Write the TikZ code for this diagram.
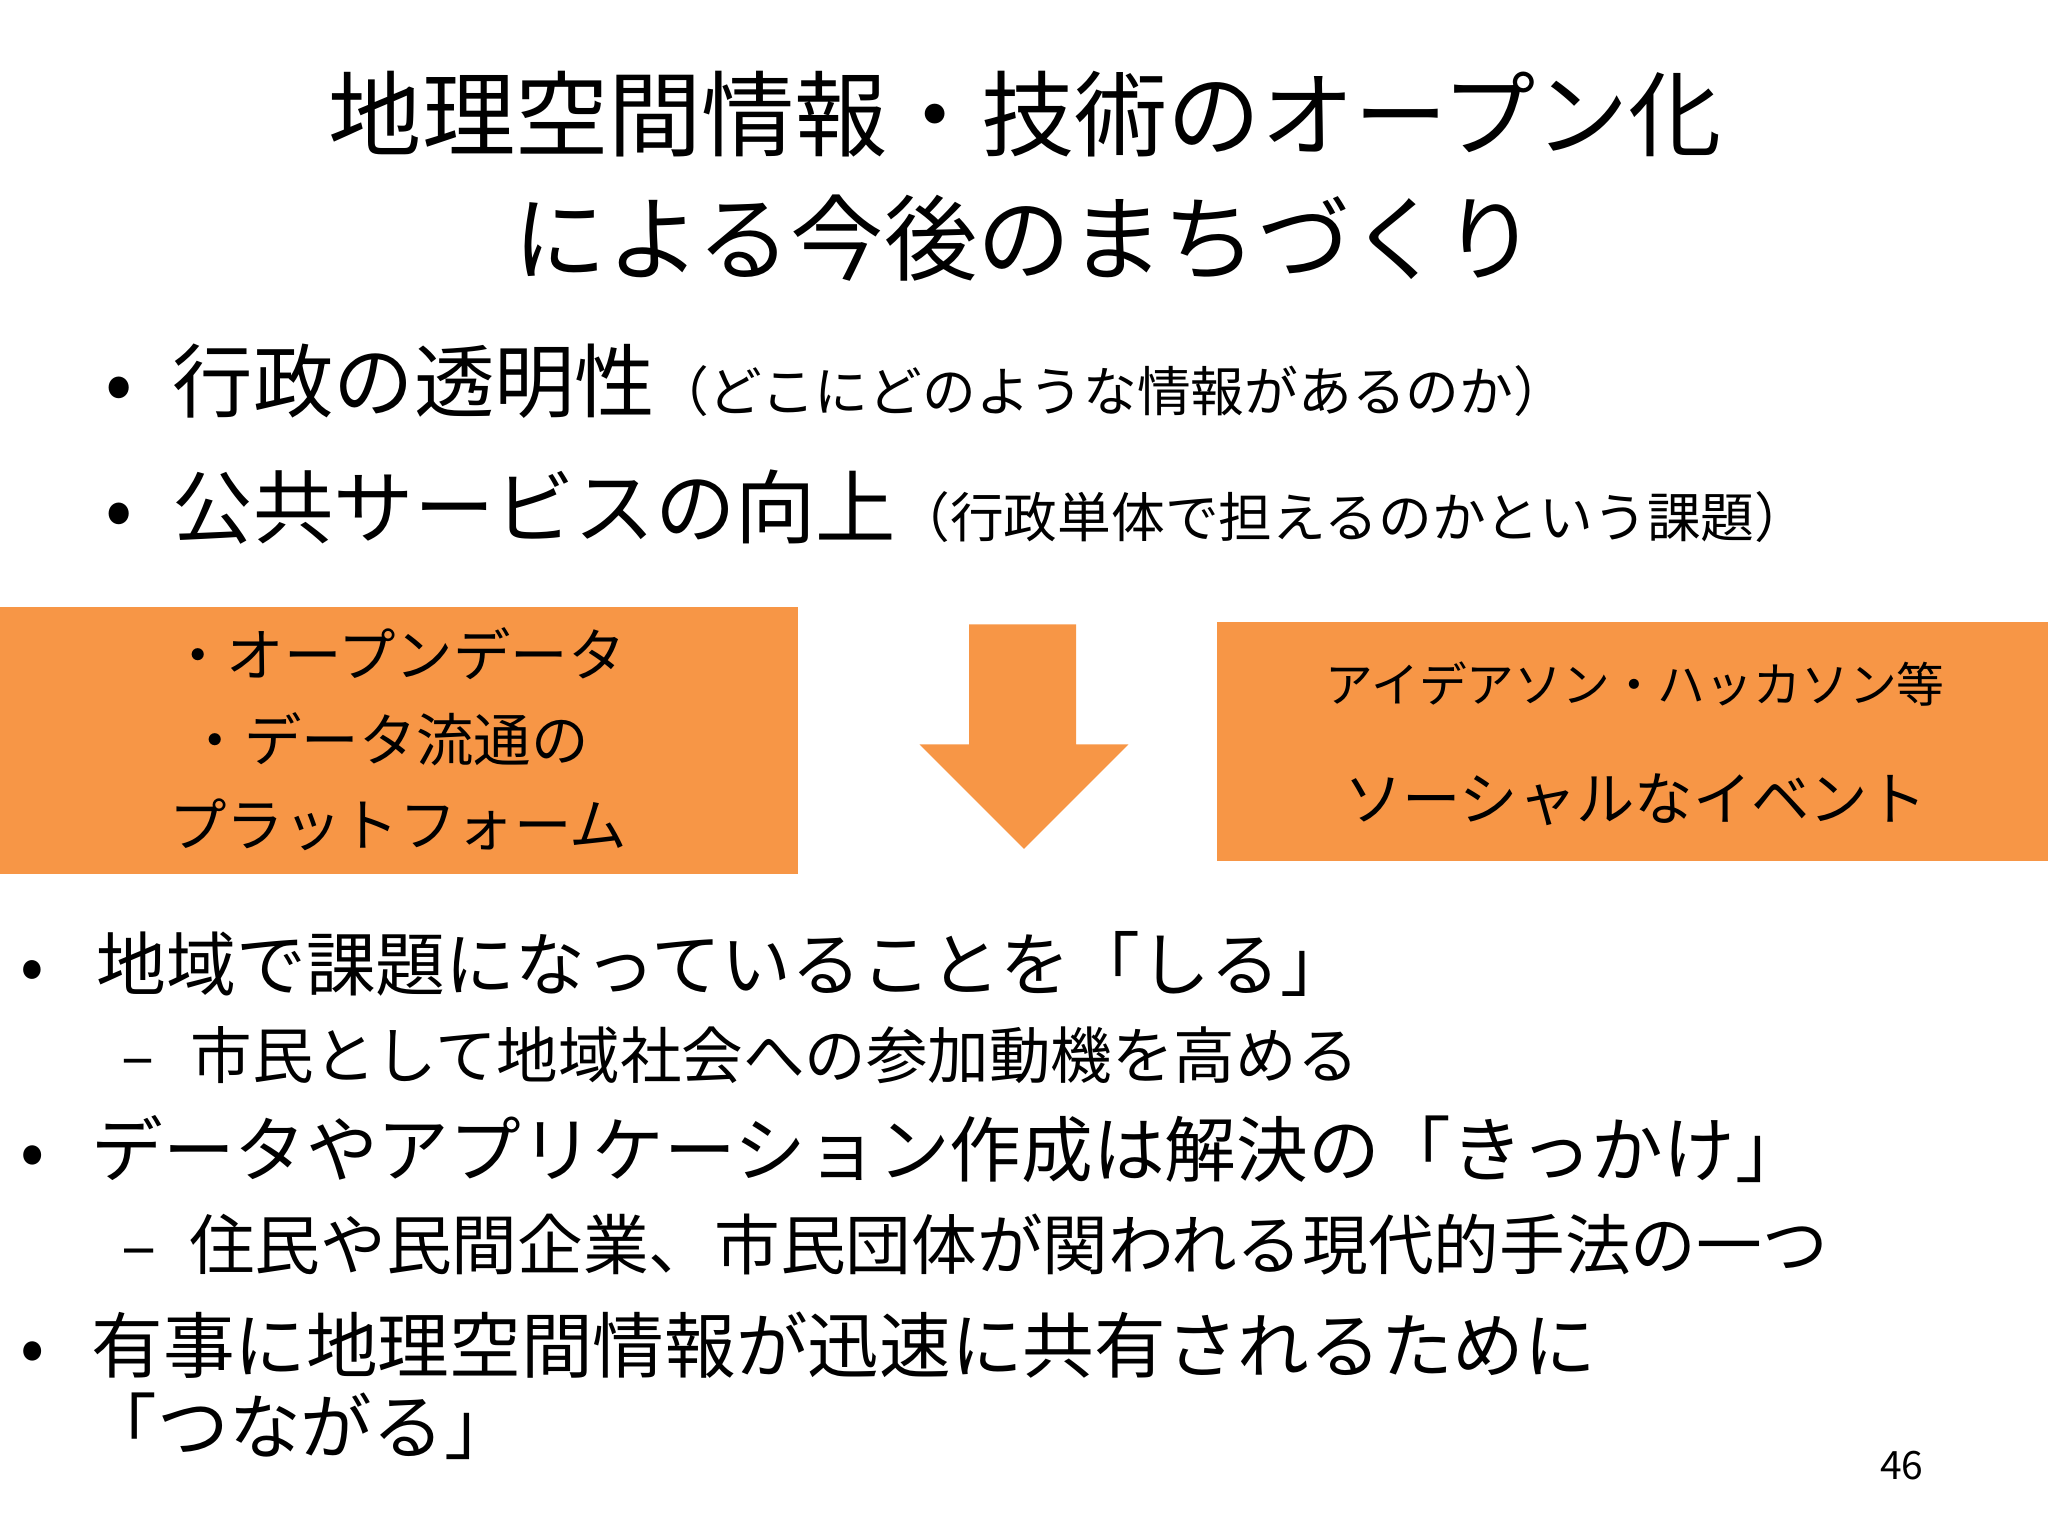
\documentclass[tikz,border=0pt]{standalone}
\usepackage{fontspec}
\setmainfont{Noto Sans CJK JP}
\newfontfamily\cjk{Noto Sans CJK JP}
\definecolor{org}{HTML}{F79646}
\begin{document}
\begin{tikzpicture}[x=0.01cm,y=-0.01cm,
  txt/.style={inner sep=0pt,anchor=west},
  obox/.style={fill=org,draw=none}]
\useasboundingbox (0,0) rectangle (1568,1176);
\node[inner sep=0pt,align=center,font=\fontsize{20.3}{27}\selectfont] (title) at (785,135) {地理空間情報・技術のオープン化\\による今後のまちづくり};
\node[txt,font=\fontsize{17.5}{20}\selectfont] (b1) at (80,292) {•\hspace{0.5em}行政の透明性{\fontsize{11.7}{14}\selectfont （どこにどのような情報があるのか）}};
\node[txt,font=\fontsize{17.5}{20}\selectfont] (b2) at (80,388) {•\hspace{0.5em}公共サービスの向上{\fontsize{11.7}{14}\selectfont （行政単体で担えるのかという課題）}};
\fill[org] (0,465) rectangle (611,669);
\node[inner sep=0pt,align=left,font=\fontsize{12.5}{18.5}\selectfont] (lb) at (305,566) {・オープンデータ\\\hspace{0.3em}・データ流通の\\プラットフォーム};
\fill[org] (932,476) rectangle (1568,659);
\node[inner sep=0pt,font=\fontsize{10.4}{12}\selectfont] (rb1) at (1252,524) {アイデアソン・ハッカソン等};
\node[inner sep=0pt,font=\fontsize{12.7}{14}\selectfont] (rb2) at (1252,612) {ソーシャルなイベント};
\fill[org] (742,478) -- (824,478) -- (824,570) -- (864,570) -- (784,650) -- (704,570) -- (742,570) -- cycle;
\node[txt,font=\fontsize{15.2}{18}\selectfont] (c1) at (15,738) {•\hspace{0.75em}地域で課題になっていることを「しる」};
\node[txt,font=\fontsize{13.4}{16}\selectfont] (c1a) at (92,808) {–\hspace{0.6em}市民として地域社会への参加動機を高める};
\node[txt,font=\fontsize{15.6}{18}\selectfont] (c2) at (15,880) {•\hspace{0.65em}データやアプリケーション作成は解決の「きっかけ」};
\node[txt,font=\fontsize{14.3}{16}\selectfont] (c2a) at (92,953) {–\hspace{0.5em}住民や民間企業、市民団体が関われる現代的手法の一つ};
\node[txt,font=\fontsize{15.6}{18}\selectfont] (c3) at (15,1030) {•\hspace{0.65em}有事に地理空間情報が迅速に共有されるために};
\node[txt,font=\fontsize{15.6}{18}\selectfont] (c3b) at (65,1092) {「つながる」};
\node[inner sep=0pt,font=\fontsize{8.5}{10}\selectfont] (pg) at (1456,1122) {46};
\end{tikzpicture}
\end{document}
